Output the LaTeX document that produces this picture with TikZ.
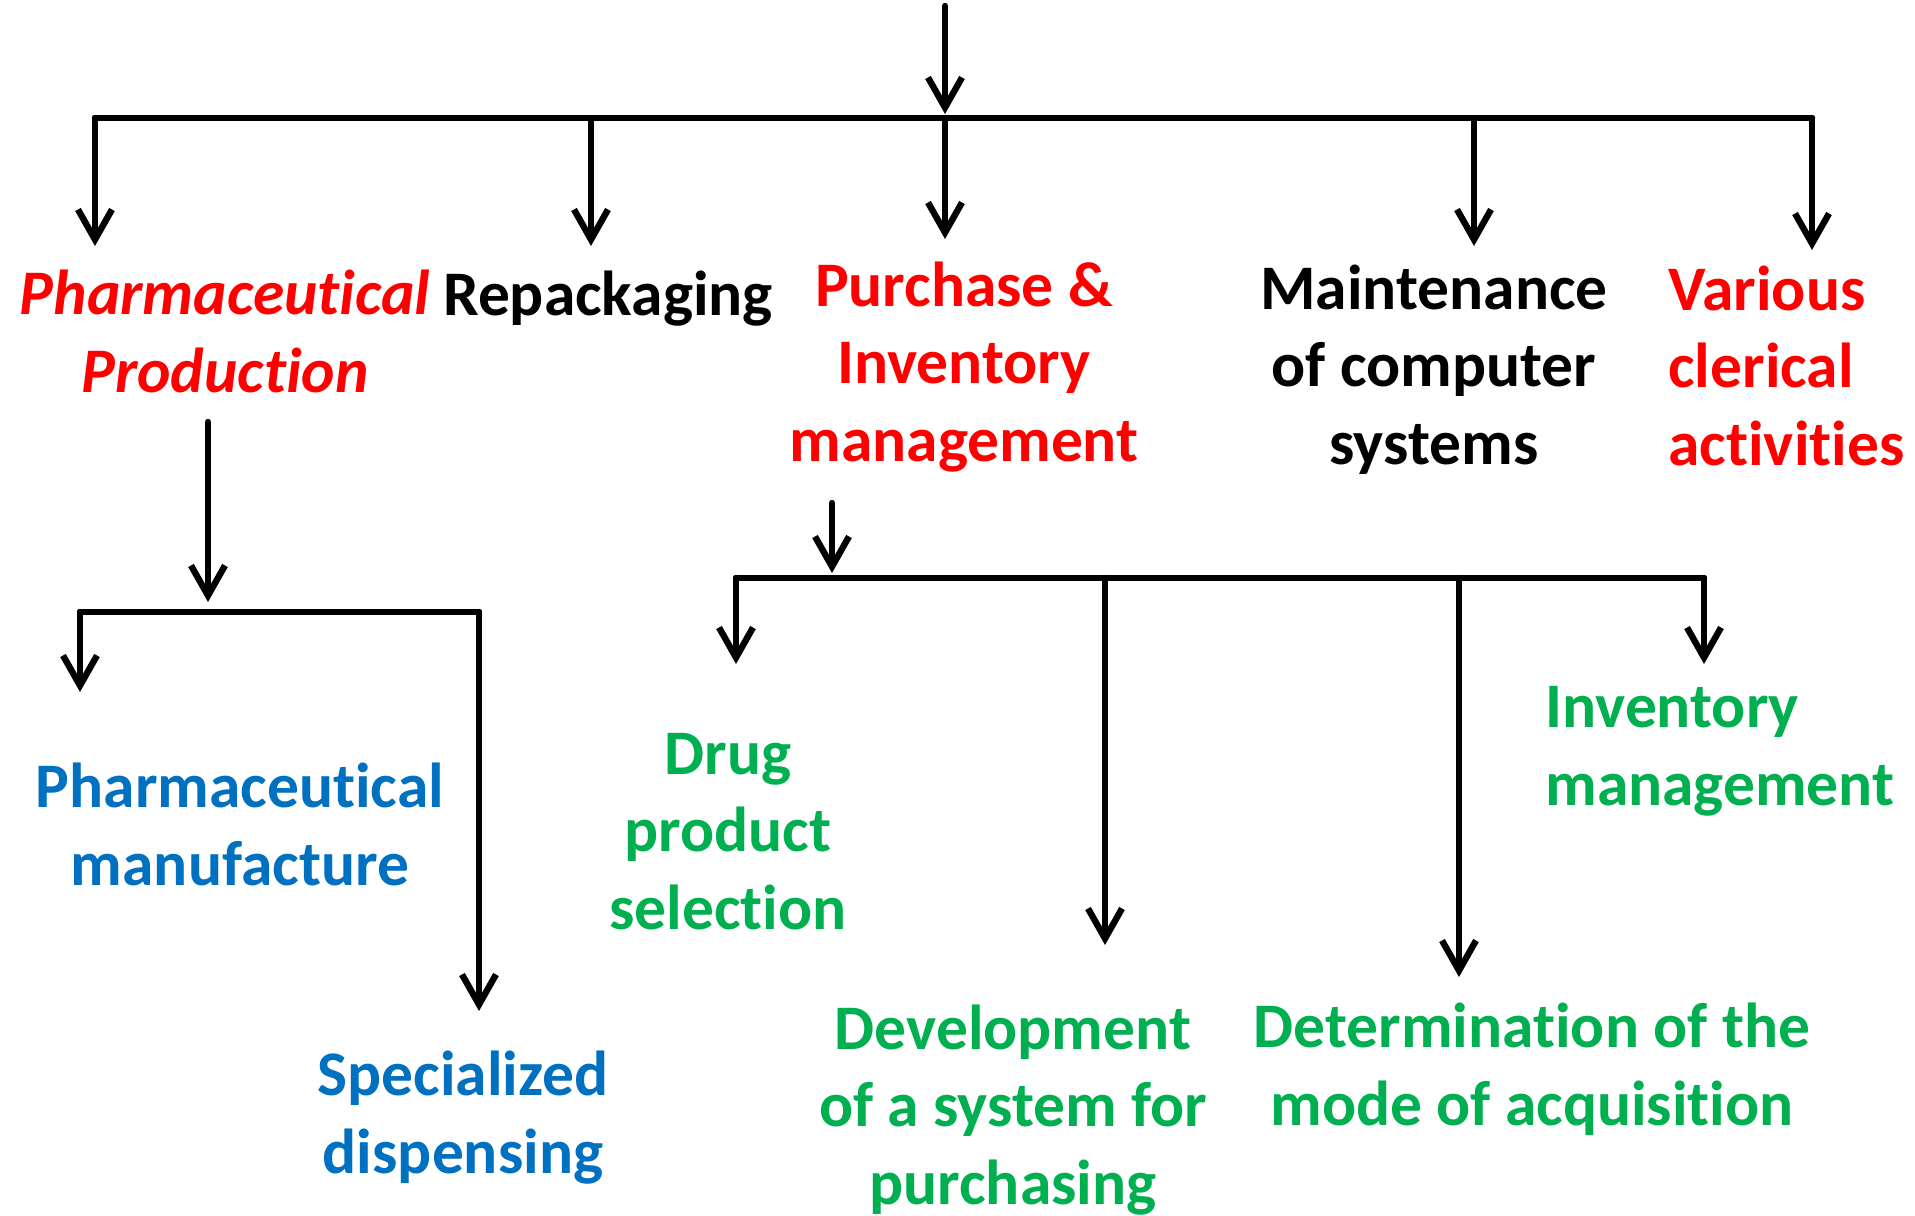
\documentclass[tikz,border=0pt]{standalone}
\usepackage{fontspec}
\setmainfont[Ligatures=NoCommon]{Carlito}
\usetikzlibrary{arrows.meta}
\definecolor{myred}{RGB}{255,0,0}
\definecolor{myblue}{RGB}{0,112,192}
\definecolor{mygreen}{RGB}{0,176,80}

\begin{document}
\begin{tikzpicture}[x=0.5pt, y=-0.5pt,
    every node/.style={inner sep=0pt, font=\fontsize{31.75}{38.75}\selectfont\bfseries, anchor=base},
    link/.style={line width=3.2pt, line cap=round},
    arr/.style={link, line join=round, -{Straight Barb[length=15pt, width=17pt]}}]
    \useasboundingbox (0,0) rectangle (1915,1215);
    % first level
    \node [myred, align=center, font=\fontsize{31.75}{38.75}\selectfont\bfseries\itshape] (prod) at (225,392) {Pharmaceutical\\Production};
    \node [black, align=center] (repack) at (608,315) {Repackaging};
    \node [myred, align=center] (purch) at (964,461) {Purchase \&\\Inventory\\management};
    \node [black, align=center] (maint) at (1434,464) {Maintenance\\of computer\\systems};
    \node [myred, align=left, anchor=base west] (cleric) at (1668,465) {Various\\clerical\\activities};
    % second level
    \node [myblue, align=center] (manuf) at (240,885) {Pharmaceutical\\manufacture};
    \node [myblue, align=center] (special) at (463,1173) {Specialized\\dispensing};
    \node [mygreen, align=center] (drug) at (728,929) {Drug\\product\\selection};
    \node [mygreen, align=center] (devel) at (1013,1204) {Development\\of a system for\\purchasing};
    \node [mygreen, align=center] (determ) at (1532,1125) {Determination of the\\mode of acquisition};
    \node [mygreen, align=left, anchor=base west] (invent) at (1545,805) {Inventory\\management};
    % top bar
    \coordinate (t0) at (945,6);
    \coordinate (t1) at (945,114);
    \coordinate (b1) at (95,118);
    \coordinate (b2) at (591,118);
    \coordinate (b3) at (945,118);
    \coordinate (b4) at (1474,118);
    \coordinate (b5) at (1812,118);
    \coordinate (e1) at (95,246);
    \coordinate (e2) at (591,246);
    \coordinate (e3) at (945,239);
    \coordinate (e4) at (1474,246);
    \coordinate (e5) at (1812,250);
    \draw [arr] (t0) to (t1);
    \draw [link] (b1) to (b5);
    \foreach \i in {1,...,5}
      \draw [arr] (b\i) to (e\i);
    % production branch
    \coordinate (p0) at (208,422);
    \coordinate (p1) at (208,602);
    \coordinate (pl) at (80,612);
    \coordinate (pr) at (479,612);
    \coordinate (pl1) at (80,692);
    \coordinate (pr1) at (479,1011);
    \draw [arr] (p0) to (p1);
    \draw [link] (pl) to (pr);
    \draw [arr] (pl) to (pl1);
    \draw [arr] (pr) to (pr1);
    % purchase branch
    \coordinate (q0) at (832,503);
    \coordinate (q1) at (832,573);
    \coordinate (s1) at (736,578);
    \coordinate (s2) at (1105,578);
    \coordinate (s3) at (1459,578);
    \coordinate (s4) at (1704,578);
    \coordinate (f1) at (736,664);
    \coordinate (f2) at (1105,945);
    \coordinate (f3) at (1459,977);
    \coordinate (f4) at (1704,664);
    \draw [arr] (q0) to (q1);
    \draw [link] (s1) to (s4);
    \foreach \i in {1,...,4}
      \draw [arr] (s\i) to (f\i);
  \end{tikzpicture}
\end{document}
